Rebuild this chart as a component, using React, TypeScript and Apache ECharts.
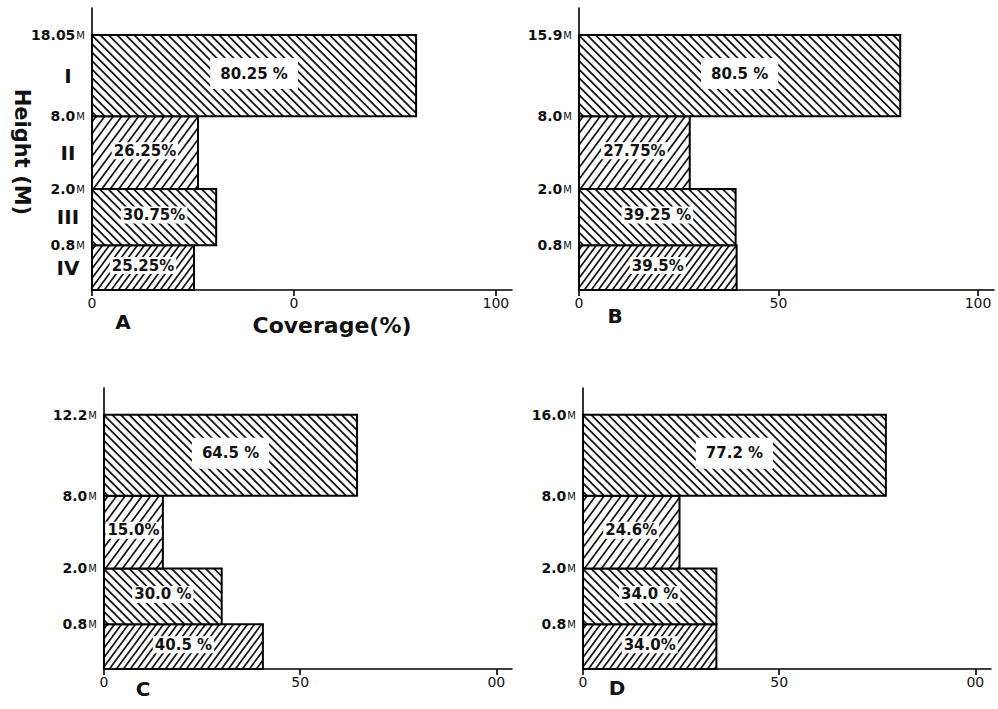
import React, { useEffect, useRef } from "react";
import * as echarts from "echarts";

// ---- data ----
const STRATA = ["IV", "III", "II", "I"]; // bottom -> top
const PANELS = ["A", "B", "C", "D"];

const HEIGHTS_A = ["0.8", "2.0", "8.0", "18.05"];
const HEIGHTS_B = ["0.8", "2.0", "8.0", "15.9"];
const HEIGHTS_C = ["0.8", "2.0", "8.0", "12.2"];
const HEIGHTS_D = ["0.8", "2.0", "8.0", "16.0"];

const COVER_A = [25.25, 30.75, 26.25, 80.25];
const COVER_B = [39.5, 39.25, 27.75, 80.5];
const COVER_C = [40.5, 30.0, 15.0, 64.5];
const COVER_D = [34.0, 34.0, 24.6, 77.2];

const COVER_TEXT_A = ["25.25%", "30.75%", "26.25%", "80.25 %"];
const COVER_TEXT_B = ["39.5%", "39.25 %", "27.75%", "80.5 %"];
const COVER_TEXT_C = ["40.5 %", "30.0 %", "15.0%", "64.5 %"];
const COVER_TEXT_D = ["34.0%", "34.0 %", "24.6%", "77.2 %"];

const X_TICKS = [0, 50, 100];
const X_TICK_TEXT_A = ["0", "0", "100"];
const X_TICK_TEXT_B = ["0", "50", "100"];
const X_TICK_TEXT_C = ["0", "50", "00"];
const X_TICK_TEXT_D = ["0", "50", "00"];

// schematic (non-proportional) stratum display scale used by the figure
const STRATUM_EDGES = [0, 0.8, 1.8, 3.1, 4.55];
const Y_MAX = 5.03;
const X_MAX = 104;

const FONT = '"DejaVu Sans", "Liberation Sans", sans-serif';

const GRIDS = [
  { left: 92, top: 8, width: 420, height: 282 },
  { left: 579, top: 8, width: 415, height: 282 },
  { left: 104, top: 388, width: 408, height: 281 },
  { left: 583, top: 388, width: 408, height: 281 },
];

const panelData = [
  { heights: HEIGHTS_A, cover: COVER_A, text: COVER_TEXT_A, ticks: X_TICK_TEXT_A },
  { heights: HEIGHTS_B, cover: COVER_B, text: COVER_TEXT_B, ticks: X_TICK_TEXT_B },
  { heights: HEIGHTS_C, cover: COVER_C, text: COVER_TEXT_C, ticks: X_TICK_TEXT_C },
  { heights: HEIGHTS_D, cover: COVER_D, text: COVER_TEXT_D, ticks: X_TICK_TEXT_D },
];

function makeRenderItem(panelIndex: number) {
  const pd = panelData[panelIndex];
  return (params: any, api: any) => {
    const v = api.value(0);
    const idx = api.value(1);
    const tl = api.coord([0, STRATUM_EDGES[idx + 1]]);
    const br = api.coord([v, STRATUM_EDGES[idx]]);
    const x0 = tl[0];
    const y0 = tl[1];
    const x1 = br[0];
    const y1 = br[1];
    const w = x1 - x0;
    const h = y1 - y0;
    const children: any[] = [];
    children.push({
      type: "rect",
      shape: { x: x0, y: y0, width: w, height: h },
      style: { fill: "#fff", stroke: "none" },
    });
    const backslash = idx % 2 === 1;
    const k = backslash ? 1.0 : 1.35;
    const step = idx === 0 ? 7 : 8.5;
    const lw = 1.7;
    if (backslash) {
      const dx = h / k;
      for (let t = x0 - dx + step / 2; t < x1; t += step) {
        const ya = Math.max(y0, y0 + k * (x0 - t));
        const yb = Math.min(y1, y0 + k * (x1 - t));
        if (yb > ya + 0.5) {
          children.push({
            type: "line",
            shape: { x1: t + (ya - y0) / k, y1: ya, x2: t + (yb - y0) / k, y2: yb },
            style: { stroke: "#111", lineWidth: lw },
          });
        }
      }
    } else {
      const dx = h / k;
      for (let t = x0 + step / 2; t < x1 + dx; t += step) {
        const ya = Math.max(y0, y0 + k * (t - x1));
        const yb = Math.min(y1, y0 + k * (t - x0));
        if (yb > ya + 0.5) {
          children.push({
            type: "line",
            shape: { x1: t - (ya - y0) / k, y1: ya, x2: t - (yb - y0) / k, y2: yb },
            style: { stroke: "#111", lineWidth: lw },
          });
        }
      }
    }
    children.push({
      type: "rect",
      shape: { x: x0, y: y0, width: w, height: h },
      style: { fill: "none", stroke: "#000", lineWidth: 2 },
    });
    children.push({
      type: "text",
      x: (x0 + x1) / 2,
      y: (y0 + y1) / 2 - 2,
      style: {
        text: pd.text[params.dataIndex],
        fill: "#111",
        font: `bold 15px ${FONT}`,
        align: "center",
        verticalAlign: "middle",
        backgroundColor: "#fff",
        padding: idx === 3 ? [8, 10] : [1, 2],
      },
    });
    if (panelIndex === 0) {
      children.push({
        type: "text",
        x: x0 - 24,
        y: (y0 + y1) / 2,
        style: {
          text: STRATA[idx],
          fill: "#111",
          font: `bold 20px ${FONT}`,
          align: "center",
          verticalAlign: "middle",
        },
      });
    }
    return { type: "group", children };
  };
}

export default function App() {
  const ref = useRef<HTMLDivElement>(null);
  useEffect(() => {
    if (!ref.current) return;
    const chart = echarts.init(ref.current, undefined, { renderer: "svg" });

    const xAxis = panelData.map((pd, i) => ({
      type: "value",
      gridIndex: i,
      min: 0,
      max: X_MAX,
      splitLine: { show: false },
      axisLine: { show: true, lineStyle: { color: "#000", width: 1.6 } },
      axisTick: {
        show: true,
        customValues: X_TICKS,
        length: 6,
        lineStyle: { color: "#000", width: 1.6 },
      },
      axisLabel: {
        customValues: X_TICKS,
        margin: 6,
        color: "#111",
        fontFamily: FONT,
        fontSize: 14,
        formatter: (val: number) => {
          const j = X_TICKS.indexOf(val);
          return j >= 0 ? pd.ticks[j] : "";
        },
      },
    }));

    const yAxis = panelData.map((pd, i) => ({
      type: "value",
      gridIndex: i,
      min: 0,
      max: Y_MAX,
      splitLine: { show: false },
      axisLine: { show: true, lineStyle: { color: "#000", width: 1.6 } },
      axisTick: { show: false },
      axisLabel: {
        customValues: STRATUM_EDGES.slice(1),
        margin: 7,
        formatter: (val: number) => {
          let j = -1;
          STRATUM_EDGES.slice(1).forEach((e, n) => {
            if (Math.abs(e - val) < 1e-6) j = n;
          });
          return j >= 0 ? `{n|${pd.heights[j]}}{m|M}` : "";
        },
        rich: {
          n: { fontFamily: FONT, fontWeight: "bold", fontSize: 14, color: "#111" },
          m: { fontFamily: FONT, fontSize: 10, color: "#111", padding: [1, 0, 0, 1] },
        },
      },
    }));

    const series = panelData.map((pd, i) => ({
      type: "custom",
      name: PANELS[i],
      xAxisIndex: i,
      yAxisIndex: i,
      renderItem: makeRenderItem(i),
      data: pd.cover.map((c, j) => [c, j]),
      clip: false,
    }));

    const letterStyle = { fill: "#111", font: `bold 20px ${FONT}`, align: "center", verticalAlign: "middle" };

    chart.setOption({
      animation: false,
      backgroundColor: "#fff",
      grid: GRIDS,
      xAxis,
      yAxis,
      series,
      graphic: [
        { type: "text", x: 123, y: 322, style: { ...letterStyle, text: PANELS[0] } },
        { type: "text", x: 615, y: 316, style: { ...letterStyle, text: PANELS[1] } },
        { type: "text", x: 143, y: 689, style: { ...letterStyle, text: PANELS[2] } },
        { type: "text", x: 617, y: 688, style: { ...letterStyle, text: PANELS[3] } },
        {
          type: "text",
          x: 332,
          y: 325,
          style: { ...letterStyle, font: `bold 22px ${FONT}`, text: "Coverage(%)" },
        },
        {
          type: "text",
          x: 22,
          y: 152,
          rotation: -Math.PI / 2,
          style: { ...letterStyle, font: `bold 21px ${FONT}`, text: "Height (M)" },
        },
      ],
    });
    return () => chart.dispose();
  }, []);
  return (
    <div
      ref={ref}
      style={{ position: "fixed", left: 0, top: 0, width: 998, height: 709, background: "#fff" }}
    />
  );
}
